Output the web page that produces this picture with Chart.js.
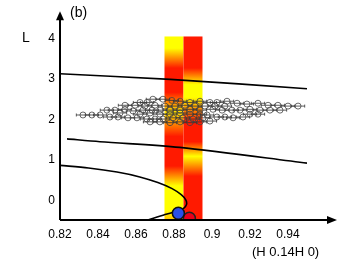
<!DOCTYPE html>
<html>
<head>
<meta charset="utf-8">
<script src="https://cdn.jsdelivr.net/npm/chart.js@4.4.0/dist/chart.umd.min.js"></script>
<style>
  html, body { margin: 0; padding: 0; background: #fff; }
  #wrap { width: 353px; height: 266px; }
</style>
</head>
<body>
<div id="wrap"><canvas id="chart" width="353" height="266"></canvas></div>
<script>
// axis ticks
const xTicks = [0.82, 0.84, 0.86, 0.88, 0.9, 0.92, 0.94];
const yTicks = [0, 1, 2, 3, 4];

// solid branches
const upperX = [0.82, 0.878, 0.95];
const upperY = [3.13, 2.99, 2.76];
const middleX = [0.8237, 0.841, 0.883, 0.95];
const middleY = [1.52, 1.45, 1.31, 0.92];
const foldX = [0.82, 0.835, 0.85, 0.862, 0.8715, 0.879, 0.8838, 0.8862, 0.8866, 0.8852, 0.8815, 0.8753, 0.8663];
const foldY = [0.865, 0.80, 0.70, 0.58, 0.44, 0.29, 0.14, 0.01, -0.10, -0.19, -0.27, -0.35, -0.485];

// measured points (hollow circles with horizontal error bars)
const cloudX = [
  0.8621, 0.8658, 0.8689, 0.8742, 0.8789, 0.8832, 0.8884, 0.8937, 0.8989, 0.9026, 0.9079, 0.9132, 0.9184, 0.9242, 0.9295, 0.9347, 0.94, 0.9453,
  0.8542, 0.8595, 0.8647, 0.87, 0.8753, 0.8805, 0.8858, 0.8911, 0.8963, 0.9016, 0.9068,
  0.8447, 0.8489, 0.8542, 0.8584, 0.8637, 0.8684, 0.8726, 0.8779, 0.8832, 0.8884, 0.8937, 0.9005, 0.9053, 0.9105, 0.9147, 0.92, 0.9253, 0.9305, 0.9358,
  0.8516, 0.8621, 0.8674, 0.8726, 0.8779, 0.8832, 0.8884, 0.8937, 0.8974, 0.92, 0.9242,
  0.8321, 0.8368, 0.8411, 0.8463, 0.8505, 0.8558, 0.8605, 0.8658, 0.87, 0.8742, 0.8795, 0.8847, 0.89, 0.8953, 0.9026, 0.9068, 0.9111, 0.9163,
  0.8674, 0.8726, 0.8779, 0.8832, 0.8884, 0.8937, 0.8989
];
const cloudY = [
  2.42, 2.42, 2.50, 2.50, 2.47, 2.45, 2.42, 2.45, 2.42, 2.42, 2.45, 2.40, 2.38, 2.40, 2.35, 2.35, 2.33, 2.33,
  2.35, 2.35, 2.33, 2.35, 2.33, 2.33, 2.35, 2.33, 2.33, 2.33, 2.33,
  2.23, 2.23, 2.25, 2.21, 2.23, 2.23, 2.23, 2.23, 2.23, 2.25, 2.23, 2.25, 2.23, 2.23, 2.23, 2.25, 2.23, 2.23, 2.23,
  2.16, 2.13, 2.16, 2.13, 2.13, 2.16, 2.13, 2.13, 2.11, 2.13, 2.13,
  2.11, 2.11, 2.11, 2.06, 2.06, 2.04, 2.04, 2.01, 2.01, 2.01, 2.04, 2.04, 2.01, 2.04, 2.06, 2.06, 2.04, 2.06,
  1.94, 1.94, 1.92, 1.94, 1.92, 1.94, 1.96
];
const cloudErr = 0.0035;

// special points
const bluePoint = [0.8823, -0.32];
const redPoint = [0.8881, -0.44];

// coloured bands: x range, L stops and colours
const bandTop = 4.05;
const leftBandX = [0.875, 0.885];
const leftBandL = [4.05, 3.76, 3.27, 2.67, 2.18, 1.58, 0.85, 0.36, -0.24, -0.485];
const leftBandC = ['#ffff00', '#ffff00', '#ff1a00', '#ff1a00', '#ffe600', '#ff1a00', '#ff1a00', '#ffff00', '#ffff00', '#ffc000'];
const rightBandX = [0.885, 0.895];
const rightBandL = [4.05, 3.27, 2.86, 2.55, 1.94, 1.45, 1.09, 0.6, -0.485];
const rightBandC = ['#ff1a00', '#ff1a00', '#ffff00', '#ffff00', '#ff1a00', '#ff1a00', '#ffff00', '#ff1a00', '#ff1a00'];

const toPts = (xs, ys) => xs.map((x, i) => ({ x: x, y: ys[i] }));
const FONT = "'Liberation Sans', Arial, Helvetica, sans-serif";

// bands behind the data
const bandsPlugin = {
    id: 'bands',
    beforeDatasetsDraw(chart) {
        const ctx = chart.ctx;
        const xs = chart.scales.x, ys = chart.scales.y;
        const drawBand = (bx, stopsL, stopsC) => {
            const x0 = xs.getPixelForValue(bx[0]);
            const x1 = xs.getPixelForValue(bx[1]);
            const yTop = ys.getPixelForValue(bandTop);
            const yBot = ys.getPixelForValue(ys.min);
            const g = ctx.createLinearGradient(0, yTop, 0, yBot);
            stopsL.forEach((l, i) => {
                const p = (ys.getPixelForValue(l) - yTop) / (yBot - yTop);
                g.addColorStop(Math.min(1, Math.max(0, p)), stopsC[i]);
            });
            ctx.fillStyle = g;
            ctx.fillRect(x0, yTop, x1 - x0, yBot - yTop);
        };
        ctx.save();
        drawBand(leftBandX, leftBandL, leftBandC);
        drawBand(rightBandX, rightBandL, rightBandC);

        // error bars of the measured points
        ctx.strokeStyle = '#333';
        ctx.lineWidth = 0.8;
        cloudX.forEach((x, i) => {
            const a = xs.getPixelForValue(x - cloudErr);
            const b = xs.getPixelForValue(x + cloudErr);
            const y = ys.getPixelForValue(cloudY[i]);
            ctx.beginPath();
            ctx.moveTo(a, y); ctx.lineTo(b, y);
            ctx.moveTo(a, y - 1.5); ctx.lineTo(a, y + 1.5);
            ctx.moveTo(b, y - 1.5); ctx.lineTo(b, y + 1.5);
            ctx.stroke();
        });
        ctx.restore();
    }
};

// axes with arrows and the texts
const axesPlugin = {
    id: 'axesArrows',
    afterDatasetsDraw(chart) {
        const ctx = chart.ctx;
        const a = chart.chartArea;
        ctx.save();
        ctx.strokeStyle = '#000';
        ctx.fillStyle = '#000';
        ctx.lineWidth = 2;
        ctx.beginPath();
        ctx.moveTo(a.left, a.bottom); ctx.lineTo(a.left, a.top + 6);
        ctx.moveTo(a.left, a.bottom); ctx.lineTo(a.right - 6, a.bottom);
        ctx.stroke();
        ctx.beginPath();
        ctx.moveTo(a.left, a.top - 1);
        ctx.lineTo(a.left - 4, a.top + 8);
        ctx.lineTo(a.left + 4, a.top + 8);
        ctx.closePath();
        ctx.fill();
        ctx.beginPath();
        ctx.moveTo(a.right, a.bottom);
        ctx.lineTo(a.right - 10, a.bottom - 4);
        ctx.lineTo(a.right - 10, a.bottom + 4);
        ctx.closePath();
        ctx.fill();

        ctx.textBaseline = 'middle';
        ctx.textAlign = 'left';
        ctx.font = '14px ' + FONT;
        ctx.fillText('(b)', a.left + 10, 13);
        ctx.fillText('L', 22, 38);
        ctx.font = '13px ' + FONT;
        ctx.fillText('(H 0.14H 0)', 252, 252);
        ctx.restore();
    }
};

new Chart(document.getElementById('chart').getContext('2d'), {
    type: 'scatter',
    data: {
        datasets: [{
            data: [{ x: bluePoint[0], y: bluePoint[1] }],
            pointRadius: 6,
            backgroundColor: '#2a4fe8',
            borderColor: '#111',
            borderWidth: 1.5
        }, {
            data: [{ x: redPoint[0], y: redPoint[1] }],
            pointRadius: 6,
            backgroundColor: '#e8001a',
            borderColor: '#222',
            borderWidth: 1.5
        }, {
            data: toPts(cloudX, cloudY),
            pointRadius: 3,
            backgroundColor: 'rgba(0,0,0,0)',
            borderColor: '#444',
            borderWidth: 0.8
        }, {
            data: toPts(upperX, upperY),
            showLine: true, pointRadius: 0,
            borderColor: '#000', borderWidth: 1.6, tension: 0.3
        }, {
            data: toPts(middleX, middleY),
            showLine: true, pointRadius: 0,
            borderColor: '#000', borderWidth: 1.6, tension: 0.3
        }, {
            data: toPts(foldX, foldY),
            showLine: true, pointRadius: 0,
            borderColor: '#000', borderWidth: 1.6, tension: 0.3
        }]
    },
    options: {
        responsive: false,
        animation: false,
        layout: { padding: { left: 0, top: 8, right: 16, bottom: 0 } },
        plugins: { legend: { display: false }, tooltip: { enabled: false } },
        scales: {
            x: {
                type: 'linear',
                min: 0.82, max: 0.9658,
                grid: { display: false, drawTicks: false },
                border: { display: false },
                afterBuildTicks: (s) => { s.ticks = xTicks.map(v => ({ value: v })); },
                afterFit: (s) => { s.height = 46; },
                ticks: {
                    padding: 7,
                    color: '#000',
                    font: { family: FONT, size: 12 },
                    callback: (v) => String(v)
                }
            },
            y: {
                type: 'linear',
                min: -0.485, max: 4.65,
                grid: { display: false, drawTicks: false },
                border: { display: false },
                afterBuildTicks: (s) => { s.ticks = yTicks.map(v => ({ value: v })); },
                afterFit: (s) => { s.width = 60; },
                ticks: {
                    padding: 5,
                    color: '#000',
                    font: { family: FONT, size: 12 },
                    callback: (v) => String(v)
                }
            }
        }
    },
    plugins: [bandsPlugin, axesPlugin]
});
</script>
</body>
</html>
